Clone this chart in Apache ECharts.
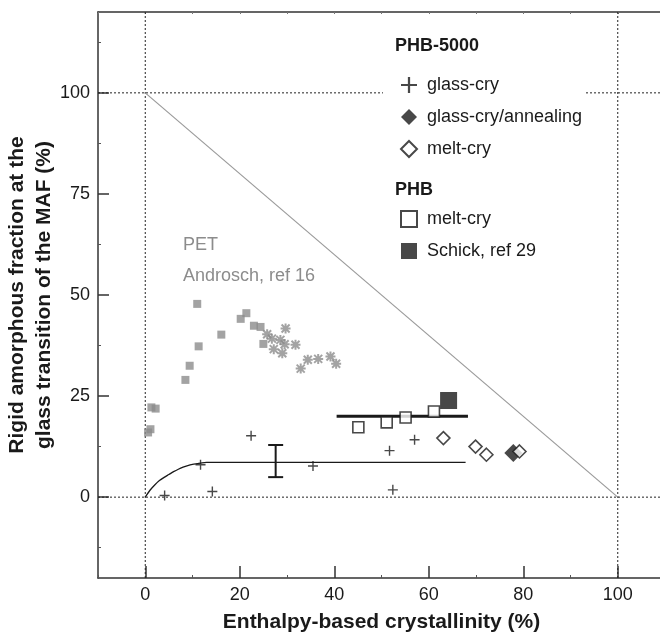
<!DOCTYPE html>
<html>
<head>
    <meta charset="utf-8">
    <title>RAF vs crystallinity</title>
    <style>
        html, body { margin: 0; padding: 0; background: #fff; }
        #container { width: 660px; height: 632px; }
    </style>
</head>
<body>
    <div id="container"></div>
    <script src="https://cdn.jsdelivr.net/npm/echarts@6/dist/echarts.min.js"></script>
    <script type="text/javascript">
    // values
    var petSquares = [[0.6, 16.0], [1.1, 16.8], [1.3, 22.2], [2.2, 21.9], [8.5, 29.0], [9.4, 32.5], [11.0, 47.8],
        [11.3, 37.3], [16.1, 40.2], [20.2, 44.1], [21.4, 45.5], [23.0, 42.4], [24.4, 42.1], [25.0, 37.9]];
    var petStars = [[25.8, 40.3], [26.8, 39.2], [27.2, 36.6], [28.6, 38.9], [29.0, 35.6], [29.5, 37.8], [29.7, 41.7],
        [31.8, 37.7], [32.9, 31.8], [34.4, 34.0], [36.6, 34.2], [39.2, 34.8], [40.4, 33.0]];
    var glassCry = [[4.1, 0.4], [11.7, 8.0], [14.2, 1.4], [22.4, 15.2], [35.5, 7.7], [51.7, 11.5], [52.4, 1.8], [57.0, 14.2]];
    var glassCryAnneal = [[77.9, 10.9]];
    var meltCry5000 = [[63.1, 14.6], [69.9, 12.5], [72.2, 10.5], [79.2, 11.3]];
    var meltCryPhb = [[45.1, 17.3], [51.1, 18.5], [55.1, 19.7], [61.1, 21.2]];
    var schick = [[64.2, 23.9]];
    var fitCurve = [[0, 0], [1, 1.7], [2, 3.0], [3, 4.1], [4, 4.9], [5, 5.6], [6, 6.3], [7, 6.9], [8, 7.4],
        [9, 7.8], [10, 8.1], [11, 8.3], [12, 8.5], [13, 8.6], [67.8, 8.6]];
    var phbLevel = [[40.5, 20], [68.3, 20]];
    var errorBar = [[27.6, 4.95, 12.9]];
    var limitLine = [[0, 100], [100, 0]];
    var guideX = [0, 100];
    var guideY = [0, 100];

    var xTicks = [0, 20, 40, 60, 80, 100];
    var xMinorTicks = [-10, 10, 30, 50, 70, 90, 110];
    var yTicks = [0, 25, 50, 75, 100];
    var yMinorTicks = [-12.5, 12.5, 37.5, 62.5, 87.5, 112.5];

    var FONT = 'Liberation Sans, Arial, sans-serif';
    var INK = '#1a1a1a';
    var GREY = '#8c8c8c';

    var plusPath = 'path://M4.3,0L5.7,0L5.7,10L4.3,10ZM0,4.3L10,4.3L10,5.7L0,5.7Z';
    var starPath = 'path://M0,4L10,4L10,6L0,6ZM4,0L6,0L6,10L4,10Z' +
        'M1.7,0.3L9.7,8.3L8.3,9.7L0.3,1.7ZM8.3,0.3L9.7,1.7L1.7,9.7L0.3,8.3Z';

    var guides = [];
    guideX.forEach(function (v) {
        guides.push({ type: 'line', data: [[v, -20], [v, 120]], symbol: 'none', silent: true, z: 1,
            lineStyle: { color: '#222', width: 1, type: [2, 2] } });
    });
    guideY.forEach(function (v) {
        guides.push({ type: 'line', data: [[-10, v], [110, v]], symbol: 'none', silent: true, z: 1,
            lineStyle: { color: '#222', width: 1, type: [2, 2] } });
    });

    var myChart = echarts.init(document.getElementById('container'));
    var option = {
        animation: false,
        textStyle: { fontFamily: FONT },
        grid: { left: 98, top: 12, right: -5, bottom: 54, outerBoundsMode: 'none' },
        xAxis: [{
            type: 'value', min: -10, max: 110, position: 'bottom',
            name: 'Enthalpy-based crystallinity (%)', nameLocation: 'middle', nameGap: 34, nameMoveOverlap: false,
            nameTextStyle: { fontSize: 21, fontWeight: 'bold', color: INK, fontFamily: FONT },
            axisLine: { onZero: false, lineStyle: { color: '#333', width: 1.5 } },
            axisTick: { inside: true, length: 12, customValues: xTicks, lineStyle: { color: '#333', width: 1.5 } },
            axisLabel: { customValues: xTicks, fontSize: 18, color: INK, margin: 8, fontFamily: FONT },
            splitLine: { show: false }
        }, {
            type: 'value', min: -10, max: 110, position: 'bottom',
            axisLine: { show: false, onZero: false },
            axisTick: { inside: true, length: 3, customValues: xMinorTicks, lineStyle: { color: '#555' } },
            axisLabel: { show: false }, splitLine: { show: false }
        }, {
            type: 'value', min: -10, max: 110, position: 'top',
            axisLine: { onZero: false, lineStyle: { color: '#333', width: 1.5 } },
            axisTick: { inside: true, length: 2, customValues: xMinorTicks.concat(xTicks), lineStyle: { color: '#777' } },
            axisLabel: { show: false }, splitLine: { show: false }
        }],
        yAxis: [{
            type: 'value', min: -20, max: 120, position: 'left',
            name: 'Rigid amorphous fraction at the\nglass transition of the MAF (%)',
            nameLocation: 'middle', nameGap: 40, nameRotate: 90, nameMoveOverlap: false,
            nameTextStyle: { fontSize: 21, fontWeight: 'bold', color: INK, lineHeight: 27, fontFamily: FONT },
            axisLine: { onZero: false, lineStyle: { color: '#333', width: 1.5 } },
            axisTick: { inside: true, length: 11, customValues: yTicks, lineStyle: { color: '#333', width: 1.5 } },
            axisLabel: { customValues: yTicks, fontSize: 18, color: INK, margin: 8, fontFamily: FONT },
            splitLine: { show: false }
        }, {
            type: 'value', min: -20, max: 120, position: 'left',
            axisLine: { show: false, onZero: false },
            axisTick: { inside: true, length: 3, customValues: yMinorTicks, lineStyle: { color: '#555' } },
            axisLabel: { show: false }, splitLine: { show: false }
        }],
        legend: [{
            left: 395, top: 71, orient: 'vertical', itemWidth: 16, itemHeight: 16, itemGap: 14, z: 6,
            data: ['glass-cry', 'glass-cry/annealing', 'PHB-5000 melt-cry'],
            formatter: function (n) { return n.replace('PHB-5000 ', ''); },
            textStyle: { fontSize: 18, color: INK, padding: [0, 0, 0, 5], fontFamily: FONT }
        }, {
            left: 395, top: 205, orient: 'vertical', itemWidth: 16, itemHeight: 16, itemGap: 14, z: 6,
            data: ['PHB melt-cry', 'Schick, ref 29'],
            formatter: function (n) { return n.replace('PHB ', ''); },
            textStyle: { fontSize: 18, color: INK, padding: [0, 0, 0, 5], fontFamily: FONT }
        }],
        graphic: [
            { type: 'rect', left: 383, top: 28, shape: { width: 202, height: 230 }, style: { fill: '#fff' }, z: 5 },
            { type: 'text', left: 395, top: 37, z: 7,
              style: { text: 'PHB-5000', font: 'bold 18px ' + FONT, fill: INK } },
            { type: 'text', left: 395, top: 181, z: 7,
              style: { text: 'PHB', font: 'bold 18px ' + FONT, fill: INK } },
            { type: 'text', left: 183, top: 236, z: 7,
              style: { text: 'PET', font: '18px ' + FONT, fill: GREY } },
            { type: 'text', left: 183, top: 267, z: 7,
              style: { text: 'Androsch, ref 16', font: '18px ' + FONT, fill: GREY } }
        ],
        series: guides.concat([{
            type: 'line', data: limitLine, symbol: 'none', silent: true, z: 2,
            lineStyle: { color: '#9a9a9a', width: 1.2 }
        }, {
            name: 'PET', type: 'scatter', data: petSquares, symbol: 'rect', symbolSize: 8, z: 3,
            itemStyle: { color: GREY }
        }, {
            name: 'PET2', type: 'scatter', data: petStars, symbol: starPath, symbolSize: 10, z: 3,
            itemStyle: { color: GREY }
        }, {
            type: 'line', data: fitCurve, symbol: 'none', smooth: 0.3, silent: true, z: 3,
            lineStyle: { color: INK, width: 1.3 }
        }, {
            type: 'line', data: phbLevel, symbol: 'none', silent: true, z: 3,
            lineStyle: { color: INK, width: 3 }
        }, {
            type: 'custom', data: errorBar, z: 3,
            renderItem: function (params, api) {
                var lo = api.coord([api.value(0), api.value(1)]);
                var hi = api.coord([api.value(0), api.value(2)]);
                var w = 7.5;
                var st = { stroke: INK, lineWidth: 2 };
                return { type: 'group', children: [
                    { type: 'line', shape: { x1: lo[0], y1: lo[1], x2: hi[0], y2: hi[1] }, style: st },
                    { type: 'line', shape: { x1: lo[0] - w, y1: lo[1], x2: lo[0] + w, y2: lo[1] }, style: st },
                    { type: 'line', shape: { x1: hi[0] - w, y1: hi[1], x2: hi[0] + w, y2: hi[1] }, style: st }
                ] };
            }
        }, {
            name: 'glass-cry', type: 'scatter', data: glassCry, symbol: plusPath, symbolSize: 10, z: 4,
            itemStyle: { color: INK }
        }, {
            name: 'glass-cry/annealing', type: 'scatter', data: glassCryAnneal, symbol: 'diamond', symbolSize: 18, z: 4,
            itemStyle: { color: INK }
        }, {
            name: 'PHB-5000 melt-cry', type: 'scatter', data: meltCry5000, symbol: 'diamond', symbolSize: 13, z: 5,
            itemStyle: { color: '#fff', borderColor: INK, borderWidth: 1.6 }
        }, {
            name: 'PHB melt-cry', type: 'scatter', data: meltCryPhb, symbol: 'rect', symbolSize: 11, z: 5,
            itemStyle: { color: '#fff', borderColor: INK, borderWidth: 1.6 }
        }, {
            name: 'Schick, ref 29', type: 'scatter', data: schick, symbol: 'rect', symbolSize: 17, z: 4,
            itemStyle: { color: INK }
        }])
    };
    myChart.setOption(option);
    </script>
</body>
</html>
